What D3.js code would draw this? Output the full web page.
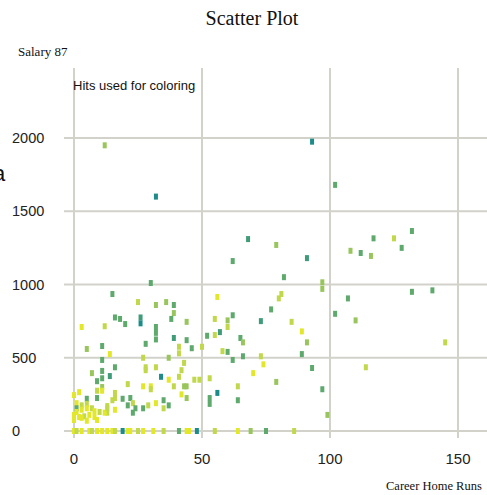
<!DOCTYPE html>
<html>
<head>
<meta charset="utf-8">
<script src="https://cdn.jsdelivr.net/npm/d3@7"></script>
<style>
  body { margin: 0; background: #fff; }
  svg { display: block; }
</style>
</head>
<body>
<svg id="chart" width="487" height="495"></svg>
<script>
// Career home runs vs 1987 salary, hits give the colour
const careerHR = [
  12, 32, 93, 102, 68, 79, 91, 82, 97, 97, 81, 80, 77, 107, 108, 112, 116, 117, 125, 128,
  132, 132, 140, 145, 114, 102, 110, 73, 85, 89, 91, 89, 73, 74, 70, 93, 79, 97, 99, 69,
  75, 86, 36, 39, 39, 38, 44, 56, 62, 60, 60, 55, 39, 44, 41, 41, 46, 50, 52, 55,
  57, 65, 66, 58, 60, 66, 62, 37, 42, 41, 34, 37, 39, 43, 44, 47, 49, 42, 44, 35,
  35, 37, 53, 64, 56, 53, 53, 64, 62, 30, 15, 25, 32, 16, 18, 20, 26, 26, 32, 32,
  32, 3, 12, 28, 11, 5, 14, 11, 27, 28, 28, 32, 43, 16, 14, 11, 11, 7, 9, 11,
  11, 21, 27, 30, 30, 16, 16, 9, 9, 19, 22, 21, 23, 24, 23, 27, 29, 32, 13, 13,
  5, 0, 2, 1, 1, 3, 3, 5, 5, 7, 8, 6, 0, 2, 4, 8, 10, 12, 13, 15,
  16, 0, 3, 9, 1, 5,
  0, 1, 3, 6, 7, 9, 11, 13, 15, 16, 19, 21, 22, 25, 27, 31, 35, 41, 44, 45, 48, 55, 64
]
const salary87 = [
  1950, 1600, 1975, 1680, 1310, 1270, 1180, 1050, 1015, 970, 935, 905, 830, 905, 1230, 1215, 1195, 1315, 1315, 1250,
  1365, 950, 960, 605, 435, 800, 755, 750, 745, 680, 605, 525, 510, 455, 395, 430, 335, 285, 110, 0,
  0, 0, 880, 860, 805, 765, 745, 915, 790, 755, 710, 765, 635, 620, 575, 530, 565, 575, 650, 655,
  675, 635, 605, 545, 540, 510, 1160, 500, 415, 370, 370, 350, 305, 305, 305, 350, 350, 250, 225, 210,
  155, 175, 360, 305, 260, 225, 185, 210, 485, 1010, 935, 880, 860, 775, 765, 730, 775, 735, 710, 670,
  625, 710, 715, 595, 580, 560, 525, 485, 500, 435, 415, 435, 465, 435, 375, 410, 360, 395, 340, 300,
  275, 320, 305, 305, 285, 260, 225, 275, 225, 220, 225, 175, 190, 155, 125, 155, 175, 190, 170, 125,
  220, 245, 265, 190, 155, 175, 145, 185, 155, 155, 135, 110, 110, 95, 100, 95, 130, 125, 155, 210,
  145, 75, 90, 75, 130, 70,
  0, 0, 0, 0, 0, 0, 0, 0, 0, 0, 0, 0, 0, 0, 0, 0, 0, 0, 0, 0, 0, 0, 0
]
const hits = [
  115, 210, 210, 145, 175, 115, 175, 145, 115, 115, 85, 85, 145, 145, 115, 145, 115, 145, 85, 145,
  145, 145, 145, 85, 85, 145, 115, 175, 85, 40, 115, 145, 85, 40, 40, 145, 115, 145, 115, 115,
  145, 85, 115, 145, 115, 145, 115, 40, 145, 115, 85, 85, 175, 145, 85, 85, 145, 85, 145, 85,
  175, 145, 115, 85, 145, 145, 145, 115, 85, 85, 210, 40, 85, 115, 115, 85, 85, 40, 115, 145,
  85, 145, 85, 85, 210, 145, 145, 145, 145, 145, 145, 85, 115, 145, 145, 145, 175, 210, 145, 145,
  145, 40, 85, 145, 145, 115, 40, 145, 85, 85, 85, 85, 85, 145, 175, 145, 145, 115, 145, 115,
  40, 85, 40, 40, 85, 85, 85, 85, 145, 145, 145, 145, 85, 145, 145, 145, 85, 40, 85, 85,
  145, 40, 40, 40, 145, 85, 40, 85, 40, 85, 40, 40, 40, 40, 85, 40, 85, 40, 85, 85,
  40, 40, 40, 40, 40, 40,
  40, 85, 40, 40, 85, 40, 40, 40, 40, 85, 210, 40, 40, 85, 40, 40, 85, 145, 40, 40, 210, 85, 40
]
const xTicks = [0, 50, 100, 150]
const yTicks = [0, 500, 1000, 1500, 2000]
const hitStops = [40, 85, 115, 145, 175, 210]
const hitColors = ['#e2e829', '#c0d84a', '#98c65c', '#5daa6c', '#3f9c78', '#1b8c88']

const points = careerHR.map((d, i) => ({ hr: d, salary: salary87[i], hits: hits[i] }))

const svg = d3.select('#chart')
const W = 487, H = 495
const plot = { left: 64, right: 487, top: 68, bottom: 438 }

const x = d3.scaleLinear().domain([0, 150]).range([74, 458])
const y = d3.scaleLinear().domain([0, 2000]).range([431, 138])
const color = d3.scaleLinear().domain(hitStops).range(hitColors).clamp(true)

svg.append('rect').attr('width', W).attr('height', H).attr('fill', '#fff')

// grid
const grid = svg.append('g').attr('stroke', '#d2d2ca').attr('stroke-width', 2)
grid.selectAll('.hgrid').data(yTicks).enter().append('line')
  .attr('x1', plot.left).attr('x2', plot.right)
  .attr('y1', d => y(d)).attr('y2', d => y(d))
grid.selectAll('.vgrid').data(xTicks).enter().append('line')
  .attr('y1', plot.top).attr('y2', plot.bottom)
  .attr('x1', d => x(d)).attr('x2', d => x(d))

// tick labels
svg.append('g').selectAll('text').data(yTicks).enter().append('text')
  .attr('x', 12).attr('y', d => y(d) + 5)
  .style('font-family', '"Liberation Sans", Arial, sans-serif')
  .style('font-size', '14.5px').attr('fill', '#222')
  .text(d => d)
svg.append('g').selectAll('text').data(xTicks).enter().append('text')
  .attr('x', d => x(d)).attr('y', 464)
  .attr('text-anchor', 'middle')
  .style('font-family', '"Liberation Sans", Arial, sans-serif')
  .style('font-size', '15px').attr('fill', '#222')
  .text(d => d)

// points
svg.append('g').selectAll('rect').data(points).enter().append('rect')
  .attr('x', d => x(d.hr) - 2).attr('y', d => y(d.salary) - 3)
  .attr('width', 4).attr('height', 6)
  .attr('fill', d => color(d.hits))

// texts
svg.append('text').attr('x', 252).attr('y', 25).attr('text-anchor', 'middle')
  .style('font-family', '"Liberation Serif", "Times New Roman", serif')
  .style('font-size', '20px').attr('fill', '#111').text('Scatter Plot')
svg.append('text').attr('x', 18).attr('y', 56)
  .style('font-family', '"Liberation Serif", "Times New Roman", serif')
  .style('font-size', '13px').attr('fill', '#111').text('Salary 87')
svg.append('text').attr('x', 386).attr('y', 490)
  .style('font-family', '"Liberation Serif", "Times New Roman", serif')
  .style('font-size', '12.5px').attr('fill', '#111').text('Career Home Runs')
svg.append('text').attr('x', 73).attr('y', 90)
  .style('font-family', '"Liberation Sans", Arial, sans-serif')
  .style('font-size', '13px').attr('fill', '#111').text('Hits used for coloring')
// stray glyph cut off at the left edge
svg.append('text').attr('x', -7).attr('y', 181)
  .style('font-family', '"Liberation Sans", Arial, sans-serif')
  .style('font-size', '22px').attr('fill', '#111').text('a')
</script>
</body>
</html>
